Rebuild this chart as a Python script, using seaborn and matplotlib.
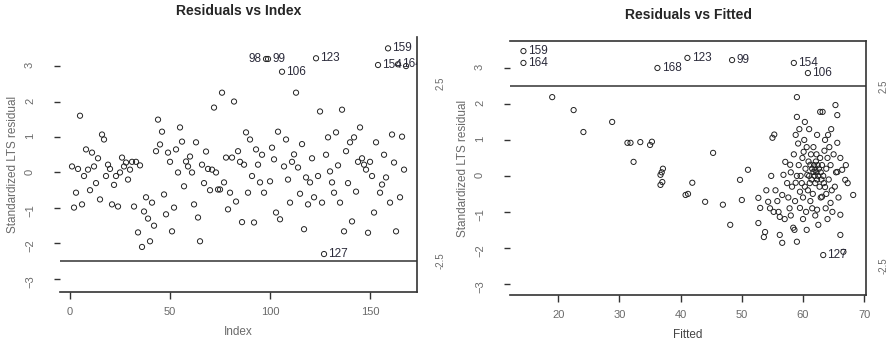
import numpy as np
import pandas as pd
import matplotlib
matplotlib.use("Agg")
import matplotlib.pyplot as plt
import matplotlib.transforms as mtrans
import seaborn as sb

# left panel: standardized LTS residual by observation index (1..168)
resid_idx = [
    0.17, -0.99, -0.57, 0.10, 1.60, -0.90, -0.10, 0.65, 0.08, -0.50,
    0.56, 0.17, -0.30, 0.40, -0.76, 1.07, 0.93, -0.10, 0.22, 0.10,
    -0.90, -0.35, -0.10, -0.96, 0.00, 0.42, 0.17, 0.28, -0.20, 0.08,
    0.30, -0.96, 0.30, -1.69, 0.20, -2.10, -1.10, -0.70, -1.30, -1.94,
    -0.85, -1.50, 0.60, 1.49, 0.79, 1.15, -0.62, -1.18, 0.56, 0.30,
    -1.66, -0.99, 0.65, 0.00, 1.27, 0.87, -0.39, 0.31, 0.17, 0.45,
    0.00, -0.90, 0.85, -1.27, -1.94, 0.22, -0.30, 0.59, 0.10, -0.50,
    0.08, 1.83, 0.00, -0.48, -0.48, 2.25, -0.28, 0.42, -1.04, -0.57,
    0.42, 2.00, -0.82, 0.60, 0.30, -1.40, 0.22, 1.13, -0.57, 0.93,
    -0.10, -1.41, 0.65, 0.22, -0.28, 0.50, -0.57, 3.20, 3.20, -0.25,
    0.70, 0.37, -1.13, 1.15, -1.32, 2.84, 0.17, 0.93, -0.20, -0.85,
    0.30, 0.51, 2.25, 0.14, -0.60, 0.80, -1.60, -0.14, -0.90, -0.28,
    0.40, -0.70, 3.22, -0.10, 1.72, -0.85, -2.30, 0.50, 0.99, 0.03,
    -0.28, -0.57, 1.13, 0.20, -0.85, 1.77, -1.66, 0.60, -0.30, 0.85,
    -1.38, 0.99, -0.54, 0.30, 1.27, 0.40, 0.22, 0.08, -1.70, 0.30,
    -0.10, -1.13, 0.85, 3.03, -0.57, -0.34, 0.50, -0.14, 3.50, -0.85,
    1.07, 0.28, -1.66, 3.05, -0.70, 1.01, 0.08, 3.00,
]
index_out = [99, 106, 123, 127, 154, 159, 164]
index_out_left = [98]   # label drawn on the left of its point

# right panel: fitted values and residuals
fitted = [
    19.0, 22.5, 24.1, 28.8, 31.3, 31.8, 33.4, 35.0, 35.3, 32.3,
    36.7, 37.0, 36.9, 36.7, 37.1, 41.9, 40.8, 41.2, 44.0, 45.3,
    46.9, 48.1, 49.7, 50.0, 51.0, 52.7, 53.0, 52.7, 53.8, 53.6,
    54.3, 54.6, 55.0, 55.3, 56.2, 56.6, 56.2, 56.6, 56.8, 57.1,
    57.9, 58.8, 59.0, 58.8, 58.4, 58.6, 59.0, 59.0, 59.5, 59.5,
    60.1, 60.7, 61.2, 61.7, 62.0, 62.3, 62.8, 63.2, 62.3, 62.5,
    63.1, 63.6, 64.0, 64.1, 64.5, 65.3, 65.6, 65.6, 65.6, 66.1,
    66.1, 66.1, 66.6, 66.9, 68.2, 66.4,
    55.5, 55.8, 56.0, 57.4, 57.6, 57.8, 58.0, 58.2, 58.5, 58.7,
    59.2, 59.3, 59.6, 59.8, 59.9, 60.0, 60.2, 60.3, 60.4, 60.5,
    60.6, 60.8, 60.9, 61.0, 61.1, 61.3, 61.4, 61.5, 61.6, 61.8,
    61.9, 62.0, 62.1, 62.2, 62.3, 62.4, 62.5, 62.6, 62.7, 62.8,
    62.9, 63.0, 63.1, 63.3, 63.4, 63.5, 63.7, 63.8, 64.0, 64.2,
    64.3, 64.5, 64.7, 64.8, 65.0, 65.2, 65.4, 65.8, 67.0, 67.3,
    61.0, 61.5, 60.0, 59.4, 60.6, 57.0, 55.2, 54.0, 54.8, 62.2,
    61.7, 62.9, 63.6, 61.2, 59.0, 58.0, 60.3, 63.8, 62.0, 64.6,
]
resid_fit = [
    2.19, 1.83, 1.22, 1.50, 0.92, 0.92, 0.94, 0.86, 0.95, 0.39,
    0.03, -0.17, 0.10, -0.25, 0.20, -0.19, -0.53, -0.50, -0.72, 0.64,
    -0.80, -1.36, -0.11, -0.67, 0.17, -0.61, -0.89, -1.31, -1.56, -1.70,
    -0.72, -0.90, 1.06, 1.15, -1.64, -1.86, -1.14, -0.53, 0.03, 0.39,
    0.31, 1.14, 1.64, -0.19, -1.44, -1.50, 2.19, -1.83, -0.89, -0.44,
    0.67, 0.03, 0.31, 0.11, 0.17, 1.14, 1.78, 1.78, -0.94, -1.36,
    -0.58, -0.31, 0.50, 1.14, -0.75, 1.97, 1.69, 0.92, 0.11, 0.50,
    -1.08, -1.64, -2.11, -0.11, -0.53, 0.17,
    -0.40, -0.70, -1.00, -0.20, -0.60, -0.90, 0.10, -0.30, 0.60, -0.70,
    0.90, 0.30, 0.00, -0.20, 0.50, -0.60, 1.00, -0.30, 0.20, -1.00,
    0.80, -0.40, 0.40, 0.00, -0.20, 0.60, -0.10, 0.20, -0.50, 0.30,
    0.00, -0.20, 0.40, 0.10, -0.10, 0.30, 0.00, 0.20, -0.30, 0.50,
    0.10, -0.10, 0.30, 0.00, -0.20, 0.70, -0.90, 0.20, -1.20, -0.10,
    0.80, 0.30, -0.40, -1.00, 0.60, -0.30, 0.10, -0.60, 0.30, -0.20,
    1.30, -0.90, -1.20, 1.30, -1.50, -1.20, -1.00, -0.40, 0.00, 0.60,
    0.80, -0.60, 1.00, -0.70, 0.00, -1.10, 1.50, -0.50, -1.10, 1.30,
]
fitted_out = [14.3, 14.3, 36.2, 41.1, 48.4, 58.5, 60.8, 63.3]
resid_out = [3.47, 3.14, 3.00, 3.28, 3.22, 3.14, 2.86, -2.20]
labels_out = ["159", "164", "168", "123", "99", "154", "106", "127"]

cutoff = 2.5

sb.set_theme(style="white")
plt.rcParams["font.family"] = ["Liberation Sans", "DejaVu Sans"]

fig = plt.figure(figsize=(8.93, 3.4), dpi=100)
ax1 = fig.add_axes([0.0672, 0.1412, 0.3998, 0.75])
ax2 = fig.add_axes([0.5711, 0.1324, 0.3987, 0.747])

pt_kw = dict(marker="o", s=14, facecolor="none", edgecolor="#222222",
             linewidth=0.7, legend=False)
lab_kw = dict(fontsize=8.5, color="#2a2a3a", va="center", clip_on=True)
grey = "#6a6a6a"

# ---- Residuals vs Index
d1 = pd.DataFrame({"Index": np.arange(1, len(resid_idx) + 1),
                   "resid": resid_idx})
sb.scatterplot(data=d1, x="Index", y="resid", ax=ax1, **pt_kw)
ax1.axhline(-cutoff, color="#333333", lw=1.1)
off_r = mtrans.offset_copy(ax1.transData, fig=fig, x=3, y=0, units="points")
off_l = mtrans.offset_copy(ax1.transData, fig=fig, x=-3, y=0, units="points")
for i in index_out:
    ax1.text(i, resid_idx[i - 1], str(i), transform=off_r, ha="left",
             **lab_kw)
for i in index_out_left:
    ax1.text(i, resid_idx[i - 1], str(i), transform=off_l, ha="right",
             **lab_kw)
ax1.set_xlim(-5, 173.5)
ax1.set_ylim(-3.37, 3.82)
ax1.set_xticks([0, 50, 100, 150])
ax1.set_yticks([-3, -2, -1, 0, 1, 2, 3])
ax1.tick_params(axis="x", length=5, width=1, color="#333333", pad=6,
                labelsize=8, labelcolor=grey, bottom=True)
ax1.tick_params(axis="y", length=4, width=1, color="#333333", pad=14,
                labelsize=8, labelcolor=grey, left=True, labelrotation=90)
ax1.set_xlabel("Index", fontsize=8.5, color=grey, labelpad=6)
ax1.set_ylabel("Standardized LTS residual", fontsize=8.5, color=grey,
               labelpad=4)
ax1.set_title("Residuals vs Index", fontsize=10, fontweight="bold", pad=16)
for side in ["top", "left"]:
    ax1.spines[side].set_visible(False)
for side in ["right", "bottom"]:
    ax1.spines[side].set_color("#333333")
    ax1.spines[side].set_linewidth(1.2)
for v in [cutoff, -cutoff]:
    ax1.text(1.065, v, str(v), transform=ax1.get_yaxis_transform(),
             rotation=90, fontsize=7, color=grey, ha="center", va="center")

# ---- Residuals vs Fitted
d2 = pd.DataFrame({"Fitted": fitted + fitted_out,
                   "resid": resid_fit + resid_out})
sb.scatterplot(data=d2, x="Fitted", y="resid", ax=ax2, **pt_kw)
ax2.axhline(cutoff, color="#333333", lw=1.1)
off2 = mtrans.offset_copy(ax2.transData, fig=fig, x=3, y=0, units="points")
for fx, ry, lb in zip(fitted_out, resid_out, labels_out):
    ax2.text(fx, ry, lb, transform=off2, ha="left", **lab_kw)
ax2.set_xlim(12.1, 70.3)
ax2.set_ylim(-3.31, 3.75)
ax2.set_xticks([20, 30, 40, 50, 60, 70])
ax2.set_yticks([-3, -2, -1, 0, 1, 2, 3])
ax2.tick_params(axis="x", length=5, width=1, color="#333333", pad=6,
                labelsize=8, labelcolor=grey, bottom=True)
ax2.tick_params(axis="y", length=4, width=1, color="#333333", pad=14,
                labelsize=8, labelcolor=grey, left=True, labelrotation=90)
ax2.set_xlabel("Fitted", fontsize=8.5, color="#444444", labelpad=6)
ax2.set_ylabel("Standardized LTS residual", fontsize=8.5, color=grey,
               labelpad=4)
ax2.set_title("Residuals vs Fitted", fontsize=10, fontweight="bold", pad=16)
ax2.spines["left"].set_visible(False)
for side in ["top", "right", "bottom"]:
    ax2.spines[side].set_color("#333333")
    ax2.spines[side].set_linewidth(1.2)
for v in [cutoff, -cutoff]:
    ax2.text(1.05, v, str(v), transform=ax2.get_yaxis_transform(),
             rotation=90, fontsize=7, color=grey, ha="center", va="center")

fig.savefig("out.png", dpi=100)
